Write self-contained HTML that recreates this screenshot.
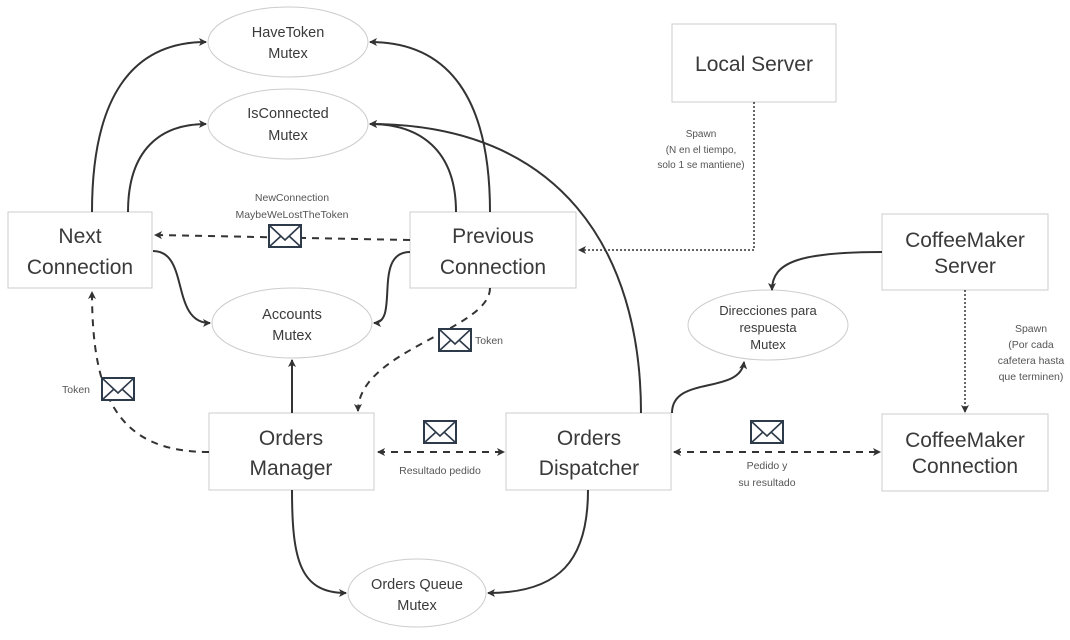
<!DOCTYPE html>
<html><head><meta charset="utf-8"><style>
html,body{margin:0;padding:0;background:#fff}
svg{display:block}
text{font-family:"Liberation Sans",sans-serif;fill:#3a3a3a}
.b{font-size:21px}
.e{font-size:14.5px}
.s{font-size:10.5px;fill:#555}
</style></head><body>
<svg width="1070" height="640" viewBox="0 0 1070 640" xmlns="http://www.w3.org/2000/svg">
<defs>
<marker id="a" markerWidth="8" markerHeight="8" refX="7" refY="4" orient="auto" markerUnits="userSpaceOnUse"><path d="M0,0 L8,4 L0,8 L2,4 Z" fill="#333"/></marker>
<marker id="as" markerWidth="8" markerHeight="8" refX="1" refY="4" orient="auto" markerUnits="userSpaceOnUse"><path d="M8,0 L0,4 L8,8 L6,4 Z" fill="#333"/></marker>
<g id="env"><rect x="-16" y="-11" width="32" height="22" fill="#fff" stroke="#2d3a4a" stroke-width="2"/><path d="M-16,-11 L0,4 L16,-11 M-16,11 L-4,0 M16,11 L4,0" fill="none" stroke="#2d3a4a" stroke-width="1.6"/></g>
</defs>
<g fill="#fff" stroke="#ccc" stroke-width="1">
<rect x="8" y="212" width="144" height="76"/>
<rect x="410" y="212" width="166" height="76"/>
<rect x="672" y="24" width="164" height="78"/>
<rect x="882" y="214" width="166" height="76"/>
<rect x="209" y="413" width="165" height="77"/>
<rect x="506" y="413" width="165" height="77"/>
<rect x="882" y="414" width="166" height="77"/>
<ellipse cx="288" cy="42" rx="80" ry="35"/>
<ellipse cx="288" cy="124" rx="80" ry="35"/>
<ellipse cx="292" cy="323" rx="80" ry="35"/>
<ellipse cx="768" cy="325" rx="80" ry="35"/>
<ellipse cx="417" cy="593" rx="69" ry="34"/>
</g>
<g fill="none" stroke="#333" stroke-width="2">
<path d="M92 212 C92 100 130 42 206 42" marker-end="url(#a)"/>
<path d="M128 212 C128 150 160 124 206 124" marker-end="url(#a)"/>
<path d="M490 212 C490 100 450 42 370 42" marker-end="url(#a)"/>
<path d="M456 212 C456 150 420 124 370 124" marker-end="url(#a)"/>
<path d="M641 413 C641 250 560 124 370 124" marker-end="url(#a)"/>
<path d="M153 251 C190 251 170 323 210 323" marker-end="url(#a)"/>
<path d="M410 252 C372 252 400 323 374 323" marker-end="url(#a)"/>
<path d="M292 413 L292 360" marker-end="url(#a)"/>
<path d="M882 252 C800 252 772 262 772 290" marker-end="url(#a)"/>
<path d="M672 413 C672 375 740 395 744 362" marker-end="url(#a)"/>
<path d="M292 490 C292 560 300 593 346 593" marker-end="url(#a)"/>
<path d="M588 490 C588 560 560 593 488 593" marker-end="url(#a)"/>
</g>
<g fill="none" stroke="#333" stroke-width="2" stroke-dasharray="7,6">
<path d="M410 240 L155 235" marker-end="url(#a)"/>
<path d="M490 288 C490 330 358 350 358 411" marker-end="url(#a)"/>
<path d="M209 452 C120 452 92 400 92 292" marker-end="url(#a)"/>
<path d="M378 452 L504 452" marker-start="url(#as)" marker-end="url(#a)"/>
<path d="M674 452 L880 452" marker-start="url(#as)" marker-end="url(#a)"/>
</g>
<g fill="none" stroke="#333" stroke-width="1.5" stroke-dasharray="2,2">
<path d="M754 102 L754 250 L579 250" marker-end="url(#a)"/>
<path d="M965 290 L965 412" marker-end="url(#a)"/>
</g>
<use href="#env" x="285" y="236"/>
<use href="#env" x="455" y="340"/>
<use href="#env" x="118" y="389"/>
<use href="#env" x="440" y="432"/>
<use href="#env" x="767" y="432"/>
<g text-anchor="middle">
<text class="b" x="80" y="243">Next</text><text class="b" x="80" y="274">Connection</text>
<text class="b" x="493" y="243">Previous</text><text class="b" x="493" y="274">Connection</text>
<text class="b" x="754" y="71">Local Server</text>
<text class="b" x="965" y="247">CoffeeMaker</text><text class="b" x="965" y="273">Server</text>
<text class="b" x="291" y="445">Orders</text><text class="b" x="291" y="475">Manager</text>
<text class="b" x="589" y="445">Orders</text><text class="b" x="589" y="475">Dispatcher</text>
<text class="b" x="965" y="447">CoffeeMaker</text><text class="b" x="965" y="473">Connection</text>
<text class="e" x="288" y="37">HaveToken</text><text class="e" x="288" y="58">Mutex</text>
<text class="e" x="288" y="118">IsConnected</text><text class="e" x="288" y="140">Mutex</text>
<text class="e" x="292" y="319">Accounts</text><text class="e" x="292" y="340">Mutex</text>
<text class="e" x="768" y="315" style="font-size:13px">Direcciones para</text><text class="e" x="768" y="332" style="font-size:13px">respuesta</text><text class="e" x="768" y="349" style="font-size:13px">Mutex</text>
<text class="e" x="417" y="589">Orders Queue</text><text class="e" x="417" y="610">Mutex</text>
<text class="s" x="292" y="201">NewConnection</text><text class="s" x="292" y="218">MaybeWeLostTheToken</text>
<text class="s" x="440" y="474">Resultado pedido</text>
<text class="s" x="767" y="469">Pedido y</text><text class="s" x="767" y="486">su resultado</text>
<text class="s" x="701" y="137" style="font-size:10px">Spawn</text><text class="s" x="701" y="153" style="font-size:10px">(N en el tiempo,</text><text class="s" x="701" y="168" style="font-size:10px">solo 1 se mantiene)</text>
<text class="s" x="1031" y="332">Spawn</text><text class="s" x="1031" y="348">(Por cada</text><text class="s" x="1031" y="364">cafetera hasta</text><text class="s" x="1031" y="380">que terminen)</text>
</g>
<text class="s" x="475" y="344">Token</text>
<text class="s" x="62" y="393">Token</text>
</svg>
</body></html>
